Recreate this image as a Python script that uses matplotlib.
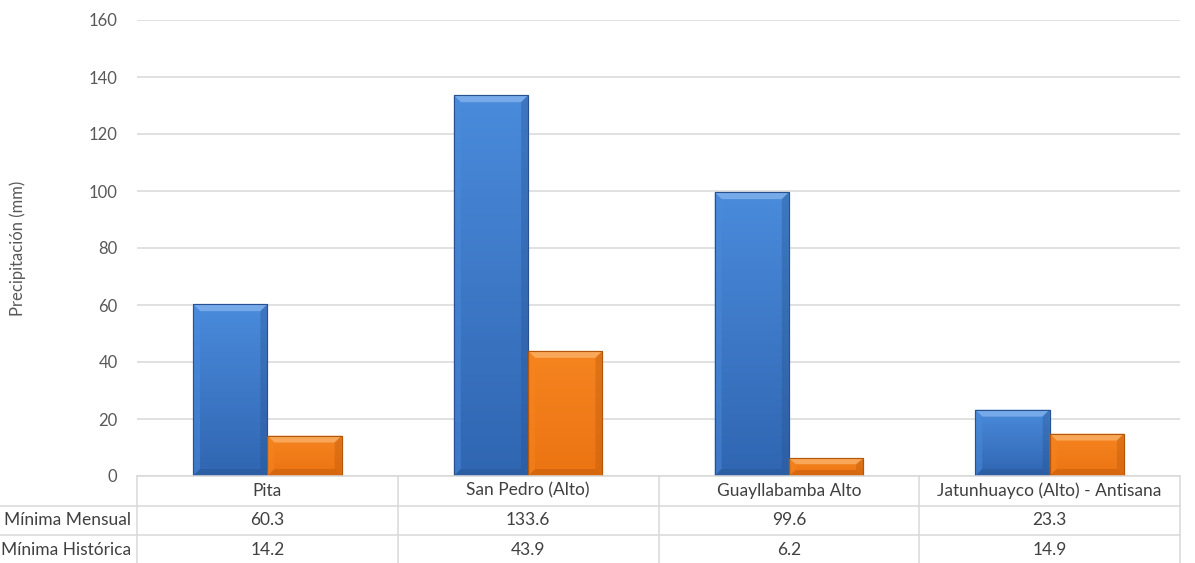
import numpy as np
import matplotlib
matplotlib.use('Agg')
import matplotlib.pyplot as plt
from matplotlib.patches import Polygon
from matplotlib.transforms import blended_transform_factory

plt.rcParams['font.family'] = ['Lato', 'DejaVu Sans']

# datos
estaciones = ['Pita', 'San Pedro (Alto)', 'Guayllabamba Alto', 'Jatunhuayco (Alto) - Antisana']
series = ['Mínima Mensual', 'Mínima Histórica']
minima_mensual = [60.3, 133.6, 99.6, 23.3]
minima_historica = [14.2, 43.9, 6.2, 14.9]

W, H = 1195, 563
AX_L, AX_R, AX_T, AX_B = 137, 1180, 20, 476
fig = plt.figure(figsize=(W / 100, H / 100), dpi=100)
ax = fig.add_axes([AX_L / W, 1 - AX_B / H, (AX_R - AX_L) / W, (AX_B - AX_T) / H])
ax_h = AX_B - AX_T

x = np.arange(len(estaciones))
bw = 0.285

# colores: (arriba, abajo, borde, bisel claro)
estilos = [
    ('#4a8bdb', '#3066b2', '#27528f', '#8ab8ee'),
    ('#f5841f', '#ec7412', '#b4560a', '#fbb872'),
]

ax.set_xlim(-0.5, len(estaciones) - 0.5)
ax.set_ylim(0, 160)
ax.set_yticks(np.arange(0, 161, 20))
ax.set_xticks([])
ax.tick_params(axis='y', length=0, pad=14, labelsize=12, labelcolor='#595959')
ax.yaxis.grid(True, color='#d9d9d9', lw=1.1)
ax.set_axisbelow(True)
for s in ['top', 'right', 'left']:
    ax.spines[s].set_visible(False)
ax.spines['bottom'].set_color('#d9d9d9')
ax.spines['bottom'].set_linewidth(1.1)

# escala px -> datos para el bisel
px_x = (ax.transData.transform((1, 0)) - ax.transData.transform((0, 0)))[0]
px_y = (ax.transData.transform((0, 1)) - ax.transData.transform((0, 0)))[1]
bx, by = 7 / px_x, 7 / px_y

def bar_biselada(pos, vals, est):
    top, bot, edge, light = est
    bars = ax.bar(pos, vals, width=bw, color=top, edgecolor=edge, linewidth=0.8, zorder=2)
    cmap = matplotlib.colors.LinearSegmentedColormap.from_list('g', [bot, top])
    for b in bars:
        x0, w, h = b.get_x(), b.get_width(), b.get_height()
        grad = np.linspace(0, 1, 100).reshape(-1, 1)
        im = ax.imshow(grad, cmap=cmap, origin='lower', aspect='auto',
                       extent=[x0, x0 + w, 0, h], zorder=2.1)
        im.set_clip_path(b)
        byy = min(by, h / 3)
        # bisel superior
        ax.add_patch(Polygon([(x0, h), (x0 + w, h), (x0 + w - bx, h - byy), (x0 + bx, h - byy)],
                             closed=True, fc=light, ec='none', alpha=0.7, zorder=2.2))
        # bisel izquierdo
        ax.add_patch(Polygon([(x0, h), (x0 + bx, h - byy), (x0 + bx, byy), (x0, 0)],
                             closed=True, fc=top, ec='none', alpha=0.5, zorder=2.2))
        # bisel derecho
        ax.add_patch(Polygon([(x0 + w, h), (x0 + w - bx, h - byy), (x0 + w - bx, byy), (x0 + w, 0)],
                             closed=True, fc=edge, ec='none', alpha=0.35, zorder=2.2))
        # bisel inferior
        ax.add_patch(Polygon([(x0, 0), (x0 + w, 0), (x0 + w - bx, byy), (x0 + bx, byy)],
                             closed=True, fc=edge, ec='none', alpha=0.4, zorder=2.2))
        ax.add_patch(plt.Rectangle((x0, 0), w, h, fill=False, ec=edge, lw=0.8, zorder=2.3))

bar_biselada(x - bw / 2, minima_mensual, estilos[0])
bar_biselada(x + bw / 2, minima_historica, estilos[1])

# tabla de datos
row_h = 29.5 / ax_h
bottom = -(H - AX_B) / ax_h
left_fig = -AX_L / (AX_R - AX_L)
lc = '#d9d9d9'
tc = '#404040'
trans = blended_transform_factory(ax.transData, ax.transAxes)
for xb in np.arange(-0.5, len(estaciones), 1.0):
    ax.plot([xb, xb], [0, bottom - 0.02], color=lc, lw=1.1, transform=trans, clip_on=False)
for k in [1, 2]:
    ax.plot([left_fig, 1], [-k * row_h, -k * row_h], color=lc, lw=1.1,
            transform=ax.transAxes, clip_on=False)

fs = 12.5
for i, est in enumerate(estaciones):
    ax.text(i, -0.5 * row_h, est, transform=trans, ha='center', va='center', fontsize=fs, color=tc)
    ax.text(i, -1.5 * row_h, f'{minima_mensual[i]:.1f}', transform=trans, ha='center', va='center',
            fontsize=fs, color=tc)
    ax.text(i, -2.5 * row_h, f'{minima_historica[i]:.1f}', transform=trans, ha='center', va='center',
            fontsize=fs, color=tc)
for k, nombre in enumerate(series):
    ax.annotate(nombre, xy=(-0.5, -(k + 1.5) * row_h), xycoords=trans, xytext=(-4, 0),
                textcoords='offset points', ha='right', va='center', fontsize=fs, color=tc,
                annotation_clip=False)

fig.text(18 / W, 1 - 248 / H, 'Precipitación (mm)', rotation=90, ha='center', va='center',
         fontsize=12, color='#595959')

fig.savefig('out.png', dpi=100)
